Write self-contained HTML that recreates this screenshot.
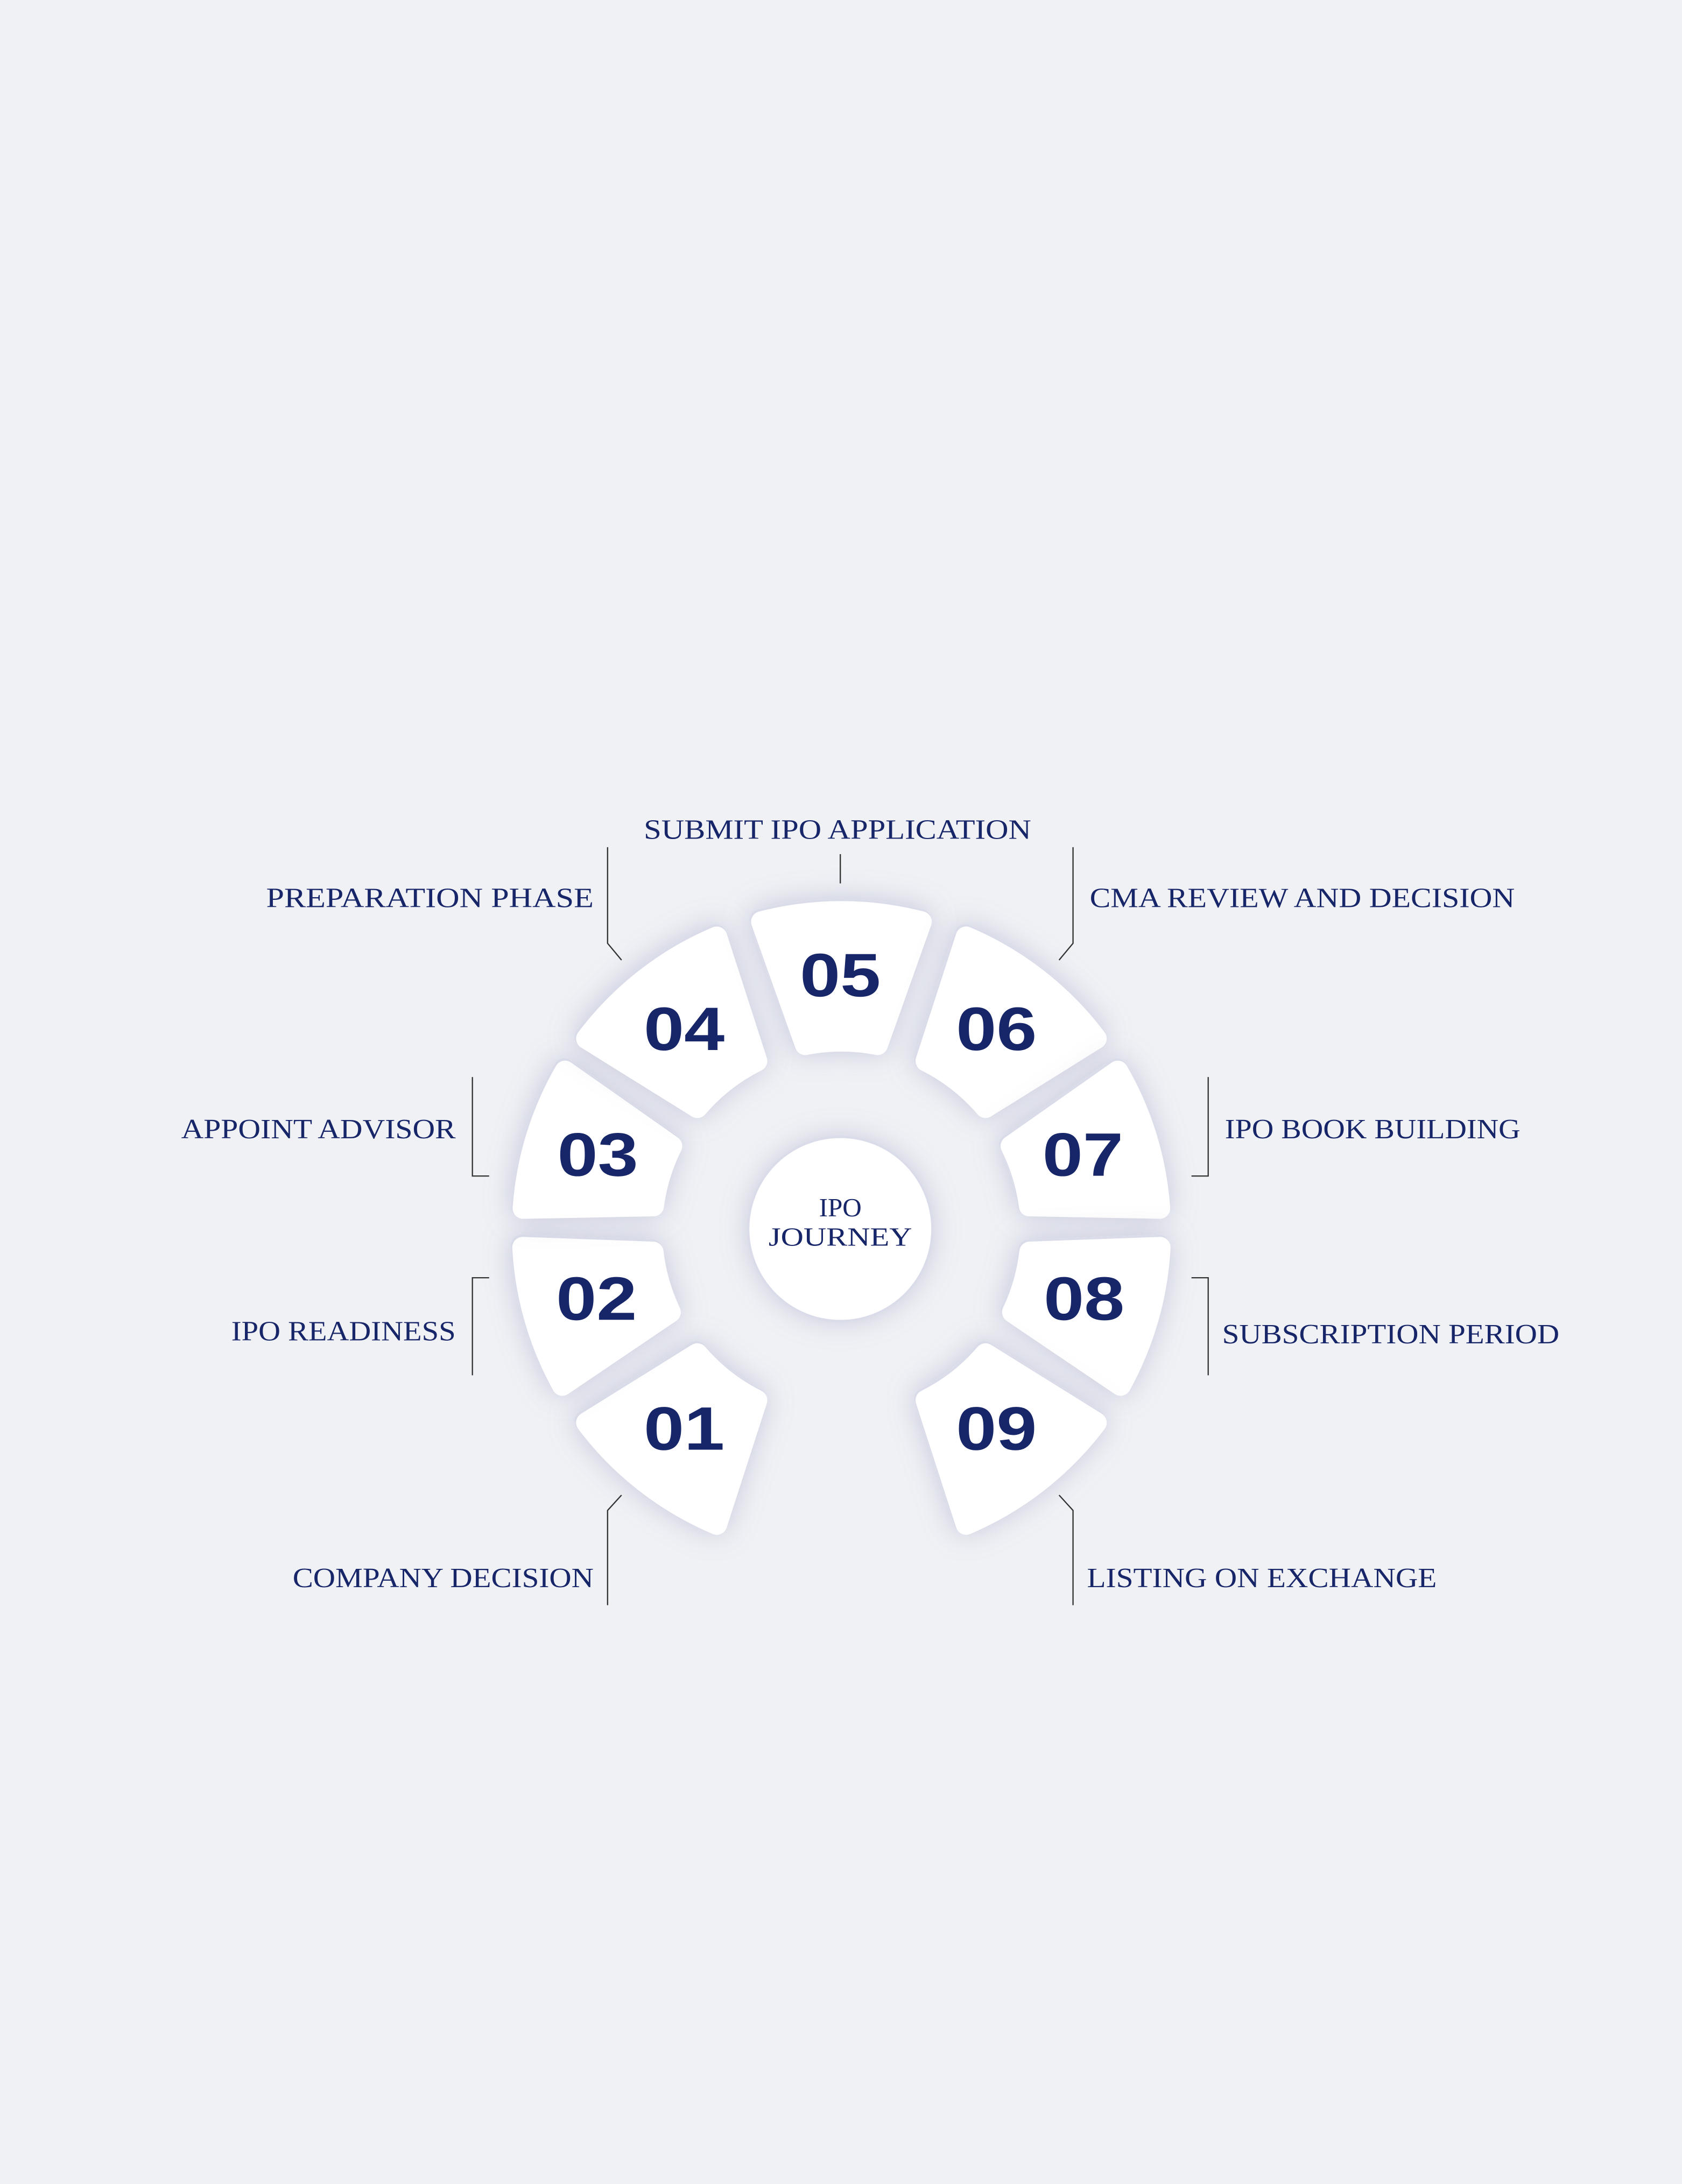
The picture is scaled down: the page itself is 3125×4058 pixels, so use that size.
<!DOCTYPE html>
<html><head><meta charset="utf-8"><style>
html,body{margin:0;padding:0;background:#f0f1f5;}
svg{display:block;}
</style></head><body>
<svg id="chart" width="3125" height="4058" viewBox="0 0 1207 1567.4" preserveAspectRatio="none" xmlns="http://www.w3.org/2000/svg">
<defs>
<filter id="sh" x="-40%" y="-40%" width="180%" height="180%">
<feDropShadow dx="0" dy="0" stdDeviation="10" flood-color="#8e92b8" flood-opacity="0.45"/>
</filter>
</defs>
<rect x="0" y="0" width="1207" height="1568" fill="#f0f1f5"/>
<g id="segs"></g>
<g id="center">
<circle cx="603" cy="882" r="66" fill="#fff" filter="url(#sh)"/>
<circle cx="603" cy="882" r="66" fill="#fff" stroke="#dadce9" stroke-width="1.5"/>
<text x="603" y="873" text-anchor="middle" font-family="Liberation Serif, serif" font-size="19" fill="#172569">IPO</text>
<text x="603" y="894" text-anchor="middle" font-family="Liberation Serif, serif" font-size="19" fill="#172569" textLength="103" lengthAdjust="spacingAndGlyphs">JOURNEY</text>
</g>
<g id="labels" stroke="#333" stroke-width="0.9" fill="none">
<path d="M603 613 V634"/>
<path d="M436 608 V677 L446 689"/>
<path d="M770 608 V677 L760 689"/>
<path d="M339 773 V844 H351"/>
<path d="M867 773 V844 H855"/>
<path d="M351 917 H339 V987"/>
<path d="M855 917 H867 V987"/>
<path d="M446 1073 L436 1084 V1152"/>
<path d="M760 1073 L770 1084 V1152"/>
</g>
<g font-family="Liberation Serif, serif" font-size="20" fill="#172569">
<text x="462" y="602" textLength="278" lengthAdjust="spacingAndGlyphs">SUBMIT IPO APPLICATION</text>
<text x="191" y="651" textLength="235" lengthAdjust="spacingAndGlyphs">PREPARATION PHASE</text>
<text x="782" y="651" textLength="305" lengthAdjust="spacingAndGlyphs">CMA REVIEW AND DECISION</text>
<text x="130" y="817" textLength="197" lengthAdjust="spacingAndGlyphs">APPOINT ADVISOR</text>
<text x="879" y="817" textLength="212" lengthAdjust="spacingAndGlyphs">IPO BOOK BUILDING</text>
<text x="166" y="962" textLength="161" lengthAdjust="spacingAndGlyphs">IPO READINESS</text>
<text x="877" y="964" textLength="242" lengthAdjust="spacingAndGlyphs">SUBSCRIPTION PERIOD</text>
<text x="210" y="1139" textLength="216" lengthAdjust="spacingAndGlyphs">COMPANY DECISION</text>
<text x="780" y="1139" textLength="251" lengthAdjust="spacingAndGlyphs">LISTING ON EXCHANGE</text>
</g>
</svg>
<script>
const stepNumbers = ["01","02","03","04","05","06","07","08","09"];
const stepAngles = [-142,-106,-73,-38,0,38,73,106,142];
const stepHalfWidths = [15,13,13,15,14.5,15,13,13,15];
const CX=603, CY=882, R_IN=136, R_OUT=229, R_NUM=182;
const NS="http://www.w3.org/2000/svg";
function pt(a,r){const t=a*Math.PI/180;return [CX+r*Math.sin(t), CY-r*Math.cos(t)];}
function segPath(a,h){
  const hi=h-3.5;
  const o1=pt(a-h,R_OUT), o2=pt(a+h,R_OUT), i2=pt(a+hi,R_IN), i1=pt(a-hi,R_IN);
  return `M${o1[0]} ${o1[1]} A${R_OUT} ${R_OUT} 0 0 1 ${o2[0]} ${o2[1]} L${i2[0]} ${i2[1]} A${R_IN} ${R_IN} 0 0 0 ${i1[0]} ${i1[1]} Z`;
}
const g=document.getElementById('segs');
stepNumbers.forEach((n,i)=>{
  const a=stepAngles[i], h=stepHalfWidths[i];
  const grp=document.createElementNS(NS,'g');
  
  
  const sh=document.createElementNS(NS,'path');
  sh.setAttribute('d',segPath(a,h));
  sh.setAttribute('fill','#fff');sh.setAttribute('stroke','#fff');sh.setAttribute('stroke-width','16');sh.setAttribute('stroke-linejoin','round');
  sh.setAttribute('filter','url(#sh)');
  const bd=document.createElementNS(NS,'path');
  bd.setAttribute('d',segPath(a,h));
  bd.setAttribute('fill','#dadce9');bd.setAttribute('stroke','#dadce9');bd.setAttribute('stroke-width','16');bd.setAttribute('stroke-linejoin','round');
  const p=document.createElementNS(NS,'path');
  p.setAttribute('d',segPath(a,h));
  p.setAttribute('fill','#fff');p.setAttribute('stroke','#fff');p.setAttribute('stroke-width','15');p.setAttribute('stroke-linejoin','round');
  p.setAttribute('transform','translate(0.8,1.2)');
  grp.appendChild(sh);grp.appendChild(bd);grp.appendChild(p);
  const c=pt(a,R_NUM);
  const t=document.createElementNS(NS,'text');
  
  
  t.setAttribute('x',c[0]);t.setAttribute('y',c[1]+15);
  t.setAttribute('text-anchor','middle');
  t.setAttribute('font-family','Liberation Sans, sans-serif');
  t.setAttribute('font-weight','bold');t.setAttribute('font-size','44');
  t.setAttribute('fill','#172569');
  t.setAttribute('textLength','58');t.setAttribute('lengthAdjust','spacingAndGlyphs');
  t.textContent=n;
  grp.appendChild(t);
  g.appendChild(grp);
});
</script>
</body></html>
